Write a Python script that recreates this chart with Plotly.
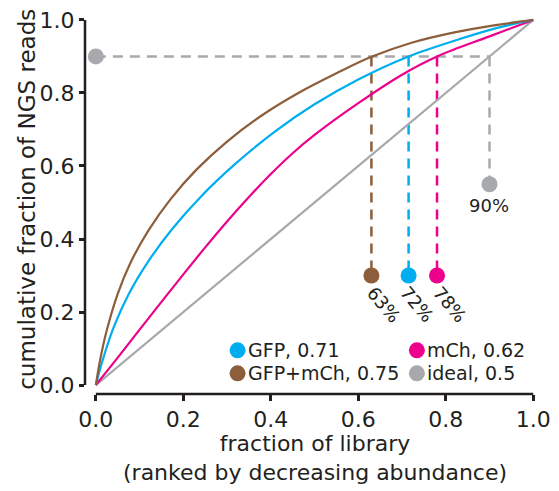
import plotly.graph_objects as go

# ---- data ----
brown_x = [0, 0.01, 0.025, 0.05, 0.08, 0.12, 0.17, 0.23, 0.30, 0.38, 0.46, 0.55, 0.63, 0.72, 0.82, 0.91, 1.0]
brown_y = [0, 0.07, 0.15, 0.25, 0.337, 0.423, 0.508, 0.59, 0.667, 0.739, 0.798, 0.854, 0.899, 0.937, 0.966, 0.985, 1.0]

blue_x = [0, 0.015, 0.04, 0.075, 0.12, 0.175, 0.24, 0.32, 0.41, 0.50, 0.60, 0.715, 0.83, 0.92, 1.0]
blue_y = [0, 0.066, 0.156, 0.249, 0.339, 0.428, 0.516, 0.607, 0.695, 0.769, 0.837, 0.900, 0.947, 0.979, 1.0]

pink_x = [0, 0.05, 0.10, 0.15, 0.20, 0.25, 0.30, 0.35, 0.40, 0.45, 0.50, 0.60, 0.70, 0.78, 0.90, 1.0]
pink_y = [0, 0.075, 0.152, 0.228, 0.303, 0.377, 0.448, 0.515, 0.578, 0.635, 0.685, 0.772, 0.850, 0.900, 0.955, 1.0]

ideal_x = [0, 1.0]
ideal_y = [0, 1.0]

threshold = 0.9
cross_x = [0.630, 0.715, 0.780, 0.900]      # brown, blue, pink, ideal
dot_y = [0.30, 0.30, 0.30, 0.55]
pct_labels = ["63%", "72%", "78%", "90%"]

legend_names = ["GFP, 0.71", "mCh, 0.62", "GFP+mCh, 0.75", "ideal, 0.5"]
legend_x = [0.324, 0.734, 0.324, 0.734]
legend_y = [0.095, 0.095, 0.032, 0.032]

x_ticks = [0, 0.2, 0.4, 0.6, 0.8, 1.0]
y_ticks = [0, 0.2, 0.4, 0.6, 0.8, 1.0]

# ---- styles ----
BROWN = "#8c5e3c"
BLUE = "#00aeef"
PINK = "#ec008c"
GRAY = "#a7a9ac"
INK = "#231f20"
FONT = "DejaVu Sans"
series_colors = [BROWN, BLUE, PINK, GRAY]
legend_colors = [BLUE, PINK, BROWN, GRAY]

fig = go.Figure()

# dashed guide lines
fig.add_trace(go.Scatter(x=[0, cross_x[3]], y=[threshold, threshold], mode="lines",
                         line=dict(color=GRAY, width=2.5, dash="10px,7px"),
                         showlegend=False, hoverinfo="skip"))
for cx, dy, col in zip(cross_x, dot_y, series_colors):
    fig.add_trace(go.Scatter(x=[cx, cx], y=[threshold, dy], mode="lines",
                             line=dict(color=col, width=2.5, dash="10px,7px"),
                             showlegend=False, hoverinfo="skip"))

# curves
for xs, ys, col in [(ideal_x, ideal_y, GRAY), (pink_x, pink_y, PINK),
                    (blue_x, blue_y, BLUE), (brown_x, brown_y, BROWN)]:
    fig.add_trace(go.Scatter(x=xs, y=ys, mode="lines",
                             line=dict(color=col, width=2.2, shape="spline", smoothing=1.0),
                             showlegend=False, hoverinfo="skip"))

# dots
fig.add_trace(go.Scatter(x=cross_x + [0], y=dot_y + [threshold], mode="markers",
                         marker=dict(color=series_colors + [GRAY], size=16),
                         showlegend=False, hoverinfo="skip"))

# legend dots
fig.add_trace(go.Scatter(x=legend_x, y=legend_y, mode="markers",
                         marker=dict(color=legend_colors, size=16),
                         showlegend=False, hoverinfo="skip"))

annotations = []
for name, lx, ly in zip(legend_names, legend_x, legend_y):
    annotations.append(dict(x=lx, y=ly, xref="x", yref="y", text=name, showarrow=False,
                            xanchor="left", yanchor="middle", xshift=8,
                            font=dict(family=FONT, size=19, color=INK)))

# percent labels
pct_pos = [(0.658, 0.221), (0.735, 0.221), (0.810, 0.221)]
for lab, (px, py) in zip(pct_labels[:3], pct_pos):
    annotations.append(dict(x=px, y=py, xref="x", yref="y", text=lab, showarrow=False,
                            textangle=50, xanchor="center", yanchor="middle",
                            font=dict(family=FONT, size=18, color=INK)))
annotations.append(dict(x=0.899, y=0.492, xref="x", yref="y", text=pct_labels[3], showarrow=False,
                        xanchor="center", yanchor="middle",
                        font=dict(family=FONT, size=18, color=INK)))

# axis titles
annotations.append(dict(x=0.5, y=-0.091, xref="x", yref="paper",
                        text="fraction of library<br>(ranked by decreasing abundance)",
                        showarrow=False, xanchor="center", yanchor="top",
                        font=dict(family=FONT, size=22, color=INK)))
annotations.append(dict(x=-0.127, y=0.51, xref="paper", yref="y",
                        text="cumulative fraction of NGS reads", textangle=-90,
                        showarrow=False, xanchor="center", yanchor="middle",
                        font=dict(family=FONT, size=23, color=INK)))

fig.update_layout(
    width=559, height=491,
    margin=dict(l=85, r=10, t=8, b=97),
    paper_bgcolor="white", plot_bgcolor="white",
    annotations=annotations,
    shapes=[
        dict(type="line", xref="x domain", yref="y", x0=0, x1=0, y0=0, y1=1,
             line=dict(color=INK, width=2.5)),
        dict(type="line", xref="x", yref="y domain", x0=0, x1=1, y0=0, y1=0,
             line=dict(color=INK, width=2.5)),
    ],
)
fig.update_xaxes(range=[-0.0248, 1.020], tickvals=x_ticks, tickformat=".1f",
                 showgrid=False, zeroline=False, showline=False,
                 ticks="outside", ticklen=6, tickwidth=2.5, tickcolor=INK,
                 tickfont=dict(family=FONT, size=22, color=INK))
fig.update_yaxes(range=[-0.0245, 1.0245], tickvals=y_ticks, tickformat=".1f",
                 showgrid=False, zeroline=False, showline=False,
                 ticks="outside", ticklen=5, tickwidth=2.5, tickcolor=INK,
                 tickfont=dict(family=FONT, size=22, color=INK))

fig.write_html("out.html")
